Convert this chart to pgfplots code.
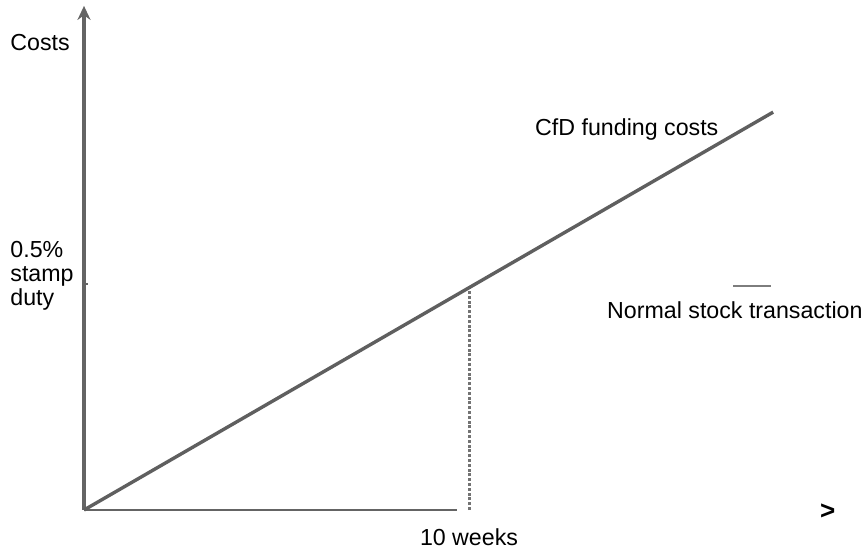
\documentclass[border=0pt]{standalone}
\usepackage{pgfplots}
\pgfplotsset{compat=1.18}
\usepackage{fontspec}
\setmainfont{Liberation Sans}
\usetikzlibrary{arrows.meta}
\definecolor{linegray}{RGB}{95,95,95}
\definecolor{axgray}{RGB}{100,100,100}
\definecolor{dotgray}{RGB}{115,115,115}
\definecolor{leggray}{RGB}{125,125,125}
\begin{document}
\begin{tikzpicture}
\begin{axis}[
  scale only axis,
  width=432.5pt, height=276pt,
  xmin=-2.182, xmax=20.286,
  ymin=-0.0929, ymax=1.128,
  hide axis,
  clip=false,
  font=\fontsize{11.6}{13.5}\selectfont,
]
% y axis with arrow
\addplot[axgray, line width=1.6pt, -{Stealth[length=7pt,width=6.5pt]}] coordinates {(0,0) (0,1.115)};
% small tick at 0.5%
\addplot[axgray, line width=0.8pt] coordinates {(0,0.5) (0.1,0.5)};
% x axis
\addplot[axgray, line width=1.2pt] coordinates {(0,0) (9.69,0)};
% dotted guide at 10 weeks
\addplot[dotgray, line width=1.5pt, dash pattern=on 1.5pt off 0.9pt] coordinates {(10,0) (10,0.495)};
% CfD funding costs line
\addplot[linegray, line width=1.7pt] coordinates {(0,0) (17.9,0.88)};
% normal stock transaction marker
\addplot[leggray, line width=1.2pt] coordinates {(16.86,0.496) (17.84,0.496)};
\node[anchor=west, inner sep=0pt] at (axis cs:-1.922,1.035) {Costs};
\node[anchor=west, inner sep=0pt, align=left, font=\fontsize{11.6}{11.8}\selectfont] at (axis cs:-1.922,0.518) {0.5\%\\stamp\\duty};
\node[anchor=west, inner sep=0pt] at (axis cs:11.71,0.841) {CfD funding costs};
\node[anchor=west, inner sep=0pt] at (axis cs:13.58,0.4425) {Normal stock transaction};
\node[inner sep=0pt] at (axis cs:10,-0.0597) {10 weeks};
\node[inner sep=0pt, font=\fontsize{13}{14}\bfseries] at (axis cs:19.32,-0.004) {>};
\end{axis}
\pgfresetboundingbox
\useasboundingbox (current axis.south west) rectangle (current axis.north east);
\end{tikzpicture}
\end{document}
